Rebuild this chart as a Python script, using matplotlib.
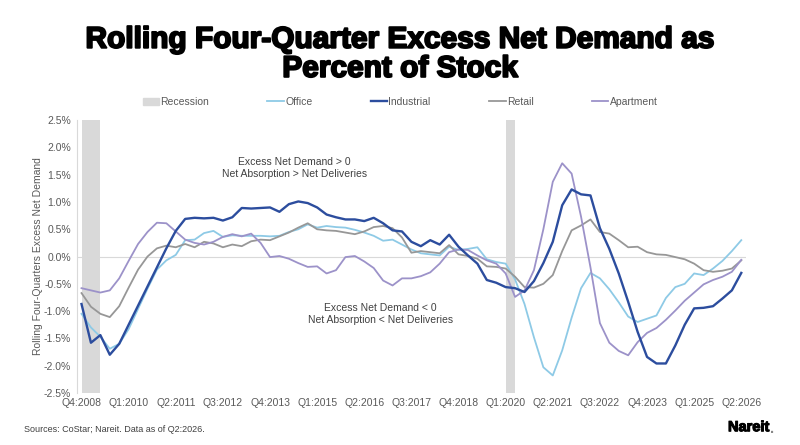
import numpy as np
import matplotlib
matplotlib.use("Agg")
import matplotlib.pyplot as plt
import matplotlib.patheffects as pe
from matplotlib.patches import Patch
from matplotlib.lines import Line2D

# quarterly labels Q4:2008 .. Q2:2026
quarters = []
for yr in range(2008, 2027):
    for q in range(1, 5):
        if (yr == 2008 and q < 4) or (yr == 2026 and q > 2):
            continue
        quarters.append(f"Q{q}:{yr}")

# recession quarters
recession_quarters = ["Q4:2008", "Q1:2009", "Q2:2009", "Q1:2020", "Q2:2020"]

office = [-1.05, -1.30, -1.47, -1.69, -1.60, -1.33, -0.96, -0.59, -0.24, -0.07,
          0.03, 0.30, 0.31, 0.43, 0.47, 0.36, 0.39, 0.38, 0.38, 0.38,
          0.37, 0.38, 0.45, 0.50, 0.59, 0.53, 0.56, 0.54, 0.53, 0.49,
          0.44, 0.38, 0.29, 0.31, 0.22, 0.13, 0.06, 0.04, 0.02, 0.18,
          0.12, 0.14, 0.17, -0.05, -0.10, -0.13, -0.42, -0.87, -1.48, -2.03,
          -2.18, -1.72, -1.12, -0.58, -0.30, -0.40, -0.60, -0.84, -1.10, -1.20,
          -1.14, -1.08, -0.76, -0.56, -0.50, -0.31, -0.34, -0.22, -0.08, 0.10,
          0.30]

industrial = [-0.87, -1.58, -1.44, -1.80, -1.60, -1.25, -0.90, -0.55, -0.20, 0.15,
              0.47, 0.69, 0.71, 0.70, 0.71, 0.66, 0.72, 0.89, 0.88, 0.89,
              0.90, 0.82, 0.96, 1.01, 0.98, 0.90, 0.77, 0.72, 0.68, 0.68,
              0.65, 0.71, 0.61, 0.48, 0.46, 0.27, 0.19, 0.30, 0.22, 0.40,
              0.18, 0.02, -0.13, -0.43, -0.48, -0.56, -0.58, -0.65, -0.45, -0.12,
              0.27, 0.94, 1.23, 1.14, 1.12, 0.52, 0.14, -0.31, -0.83, -1.38,
              -1.84, -1.96, -1.96, -1.63, -1.25, -0.95, -0.94, -0.91, -0.77, -0.62,
              -0.30]

retail = [-0.67, -0.92, -1.05, -1.11, -0.91, -0.57, -0.24, 0.00, 0.15, 0.20,
          0.17, 0.23, 0.17, 0.27, 0.24, 0.17, 0.22, 0.19, 0.28, 0.31,
          0.30, 0.37, 0.44, 0.53, 0.61, 0.50, 0.48, 0.47, 0.44, 0.41,
          0.46, 0.54, 0.56, 0.52, 0.35, 0.07, 0.10, 0.08, 0.06, 0.21,
          0.04, 0.01, -0.04, -0.18, -0.19, -0.22, -0.37, -0.56, -0.57, -0.50,
          -0.34, 0.10, 0.48, 0.57, 0.68, 0.45, 0.42, 0.30, 0.17, 0.18,
          0.08, 0.04, 0.03, -0.01, -0.05, -0.13, -0.25, -0.28, -0.26, -0.22,
          -0.07]

apartment = [-0.58, -0.62, -0.66, -0.62, -0.40, -0.08, 0.23, 0.45, 0.62, 0.61,
             0.46, 0.31, 0.25, 0.22, 0.27, 0.36, 0.41, 0.37, 0.42, 0.25,
             -0.01, 0.01, -0.04, -0.12, -0.19, -0.18, -0.31, -0.25, -0.01, 0.01,
             -0.09, -0.21, -0.44, -0.53, -0.40, -0.40, -0.36, -0.29, -0.13, 0.08,
             0.13, 0.12, 0.02, -0.07, -0.13, -0.31, -0.74, -0.62, -0.25, 0.50,
             1.37, 1.71, 1.52, 0.73, -0.20, -1.22, -1.58, -1.73, -1.81, -1.57,
             -1.40, -1.31, -1.16, -0.99, -0.81, -0.66, -0.51, -0.43, -0.37, -0.28,
             -0.06]

c_rec = "#d9d9d9"
c_office = "#8ecae6"
c_ind = "#2c4d9e"
c_retail = "#979797"
c_apt = "#9c92c9"
txt = "#595959"

plt.rcParams["font.family"] = ["Liberation Sans", "DejaVu Sans"]

x = np.arange(len(quarters))
rec = np.array([q in recession_quarters for q in quarters])

fig = plt.figure(figsize=(8, 4.45), dpi=100)
ax = fig.add_axes([0.096, 0.117, 0.8365, 0.613])

ax.fill_between(x, -2.5, 2.5, where=rec, color=c_rec, lw=0, zorder=1)
ax.plot(x, office, color=c_office, lw=1.3, zorder=3)
ax.plot(x, industrial, color=c_ind, lw=1.7, zorder=4)
ax.plot(x, retail, color=c_retail, lw=1.3, zorder=3)
ax.plot(x, apartment, color=c_apt, lw=1.3, zorder=3)

ax.axhline(0, color="#d9d9d9", lw=0.8, zorder=2)
ax.set_xlim(-0.5, len(quarters) - 0.5)
ax.set_ylim(-2.5, 2.5)
ax.set_yticks(np.arange(-2.5, 2.51, 0.5))
ax.set_yticklabels([f"{v:.1f}%" for v in np.arange(-2.5, 2.51, 0.5)])
ax.set_xticks(x[::5])
ax.set_xticklabels(quarters[::5])
ax.tick_params(axis="both", length=0, labelsize=7.5, colors=txt, pad=4)
for s in ["top", "right", "bottom"]:
    ax.spines[s].set_visible(False)
ax.spines["left"].set_color("#d9d9d9")
ax.spines["left"].set_linewidth(0.8)
ax.set_ylabel("Rolling Four-Quarters Excess Net Demand", fontsize=7.5, color=txt, labelpad=1)

ax.text(22.6, 1.62, "Excess Net Demand > 0\nNet Absorption > Net Deliveries",
        ha="center", va="center", fontsize=7.5, color="#404040", linespacing=1.25)
ax.text(31.7, -1.06, "Excess Net Demand < 0\nNet Absorption < Net Deliveries",
        ha="center", va="center", fontsize=7.5, color="#404040", linespacing=1.25)

fig.text(0.5, 0.878, "Rolling Four-Quarter Excess Net Demand as\nPercent of Stock",
         ha="center", va="center", fontsize=21.5, fontweight="bold", color="black",
         linespacing=1.05,
         path_effects=[pe.withStroke(linewidth=1.4, foreground="black")])

handles = [Patch(color=c_rec),
           Line2D([], [], color=c_office, lw=1.3),
           Line2D([], [], color=c_ind, lw=1.7),
           Line2D([], [], color=c_retail, lw=1.3),
           Line2D([], [], color=c_apt, lw=1.3)]
labels = ["Recession", "Office", "Industrial", "Retail", "Apartment"]
fig.legend(handles, labels, loc="center", bbox_to_anchor=(0.5, 0.771), ncol=5,
           frameon=False, fontsize=7.5, labelcolor=txt, handlelength=1.6,
           handleheight=0.6, handletextpad=0.1, columnspacing=5.6)

fig.text(0.03, 0.034, "Sources: CoStar; Nareit. Data as of Q2:2026.", fontsize=6.5,
         color="#404040", ha="left", va="center")
fig.text(0.91, 0.04, "Nareit", fontsize=10.5, fontweight="bold", color="black",
         ha="left", va="center",
         path_effects=[pe.withStroke(linewidth=0.8, foreground="black")])
fig.text(0.963, 0.036, ".", fontsize=10.5, fontweight="bold", color="#888888",
         ha="left", va="center")

fig.savefig("out.png", dpi=100)
